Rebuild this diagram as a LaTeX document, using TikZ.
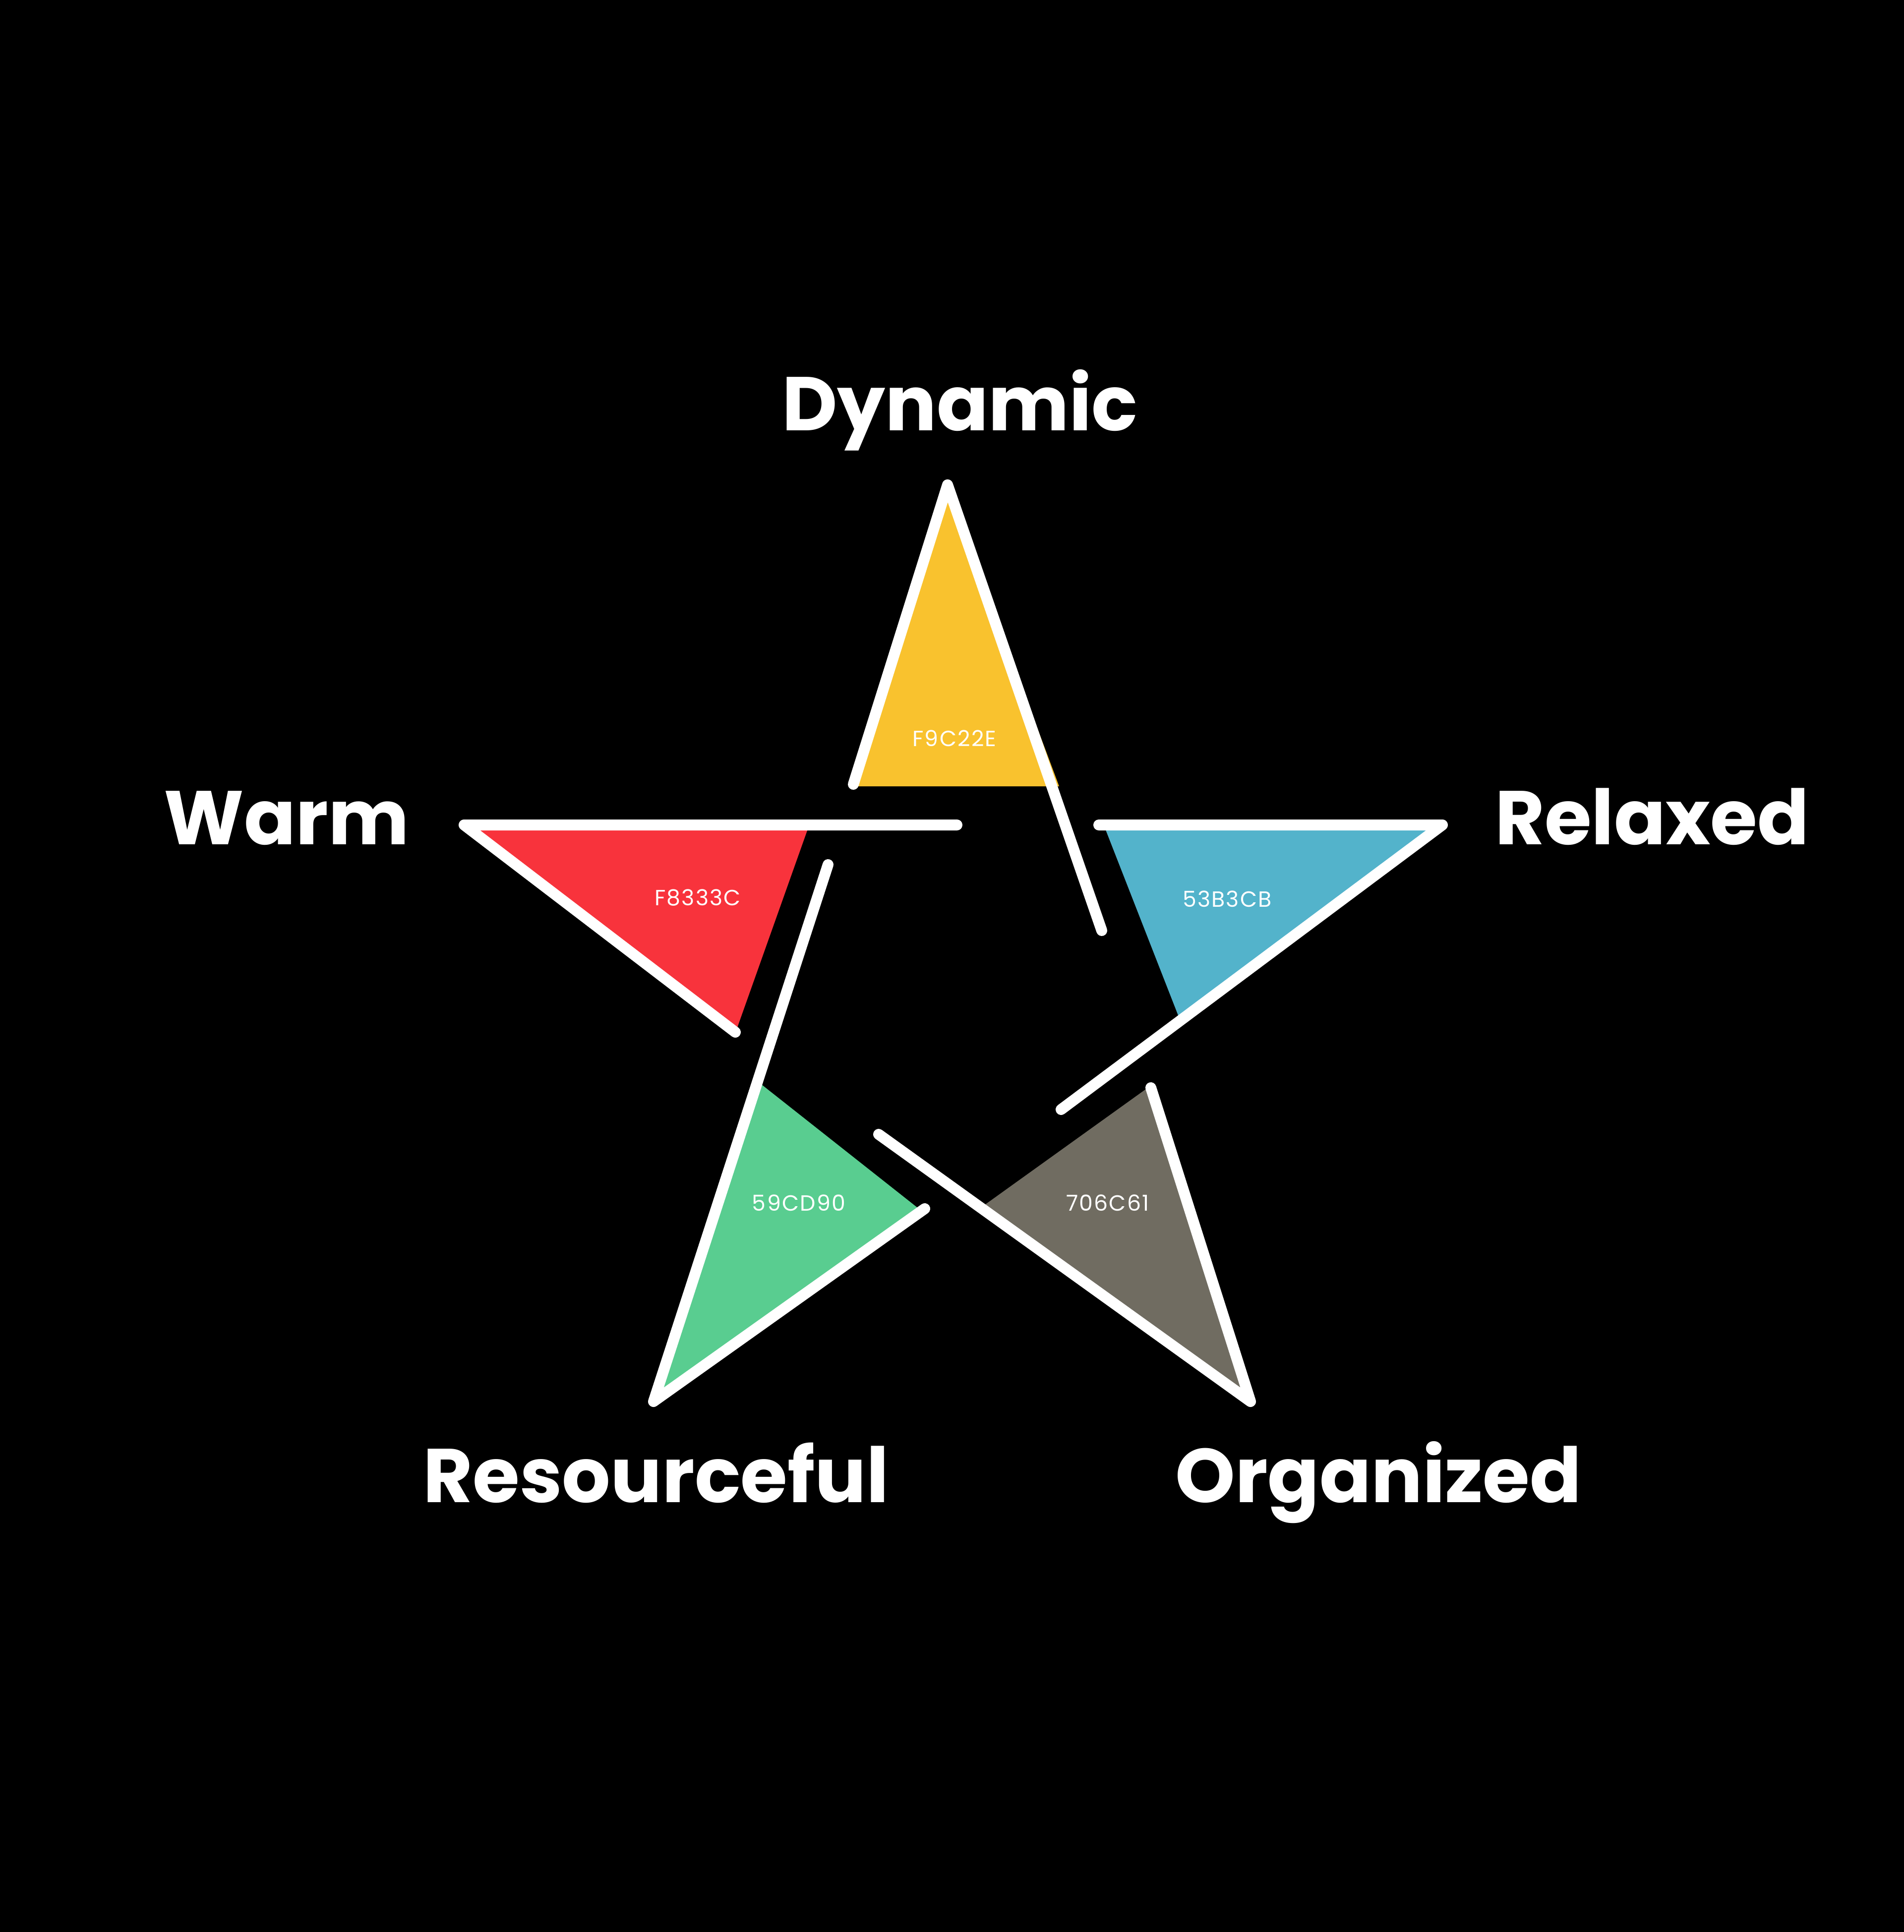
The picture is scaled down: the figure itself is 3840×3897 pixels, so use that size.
\documentclass[tikz,border=0pt]{standalone}
\usepackage{fontspec}
\setmainfont{Poppins}
\newfontfamily\hexfont{Poppins}[LetterSpace=5]
\definecolor{cyel}{HTML}{F9C22E}
\definecolor{cred}{HTML}{F8333C}
\definecolor{cblu}{HTML}{53B3CB}
\definecolor{cgrn}{HTML}{59CD90}
\definecolor{cgry}{HTML}{706C61}
\tikzset{
  wline/.style={draw=white, line width=0.22cm, line cap=round, line join=round},
  biglabel/.style={text=white, anchor=base, inner sep=0pt, font=\fontsize{43.7pt}{48pt}\selectfont\bfseries},
  hexlabel/.style={text=white, anchor=base, inner sep=0pt, font=\hexfont\fontsize{12.6pt}{14pt}\selectfont}
}
\begin{document}
\begin{tikzpicture}[x=0.01cm, y=-0.01cm]
\fill[black] (0,0) rectangle (3840,3897);
\useasboundingbox (0,0) rectangle (3840,3897);
% star points and segment ends
\coordinate (A) at (1911,978);
\coordinate (W) at (936,1664);
\coordinate (R) at (2909,1664);
\coordinate (BL) at (1318,2827);
\coordinate (BR) at (2522,2827);
\coordinate (yl) at (1721,1582);
\coordinate (yr) at (2222,1877);
\coordinate (we) at (1930,1664);
\coordinate (re) at (2216,1664);
\coordinate (rd) at (1483,2082);
\coordinate (bd) at (2140,2238);
\coordinate (gt) at (1670,1744);
\coordinate (ge) at (1865,2438);
\coordinate (oe) at (1772,2288);
\coordinate (gyt) at (2321,2194);
% fills
\fill[cyel] (1911,985) -- (1722,1586) -- (2136,1586) -- cycle;
\fill[cred] (936,1664) -- (1632,1664) -- (1485,2078) -- cycle;
\fill[cblu] (2226,1664) -- (2909,1664) -- (2380,2058) -- cycle;
\fill[cgrn] (1525,2179) -- (1858,2442) -- (1318,2827) -- cycle;
\fill[cgry] (2322,2189) -- (1978,2436) -- (2522,2827) -- cycle;
% lines
\draw[wline] (yl) -- (A) -- (yr);
\draw[wline] (we) -- (W) -- (rd);
\draw[wline] (re) -- (R) -- (bd);
\draw[wline] (gt) -- (BL) -- (ge);
\draw[wline] (oe) -- (BR) -- (gyt);
% hex labels
\node[hexlabel] (hy) at (1925,1505) {F9C22E};
\node[hexlabel] (hr) at (1407,1826) {F8333C};
\node[hexlabel] (hb) at (2475,1829) {53B3CB};
\node[hexlabel] (hg) at (1611,2442) {59CD90};
\node[hexlabel] (hgy) at (2234,2442) {706C61};
% big labels
\node[biglabel] (dyn) at (1936,868) {Dynamic};
\node[biglabel] (warm) at (578,1703) {Warm};
\node[biglabel] (rel) at (3332,1703) {Relaxed};
\node[biglabel] (res) at (1323,3030) {Resourceful};
\node[biglabel] (org) at (2780,3030) {Organized};
\end{tikzpicture}
\end{document}
